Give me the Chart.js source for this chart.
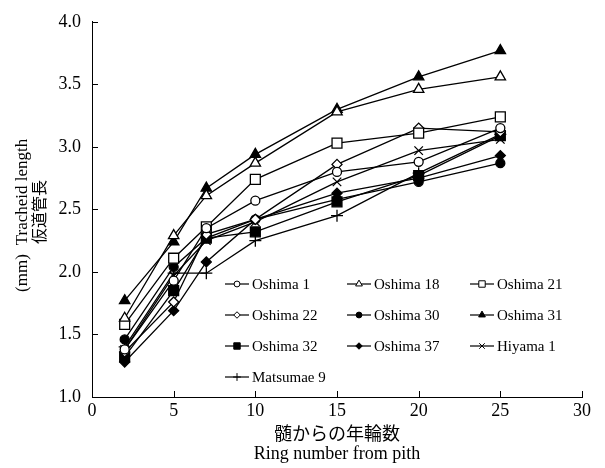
<!DOCTYPE html>
<html>
<head>
<meta charset="utf-8">
<script src="https://cdn.jsdelivr.net/npm/chart.js@4.4.1/dist/chart.umd.min.js"></script>
<style>
    html, body { margin: 0; padding: 0; background: #fff; }
    #wrap { width: 605px; height: 468px; }
</style>
</head>
<body>
<div id="wrap"><canvas id="chart" width="605" height="468"></canvas></div>
<script>
// ring number from pith
const rings = [2, 5, 7, 10, 15, 20, 25];

// tracheid length (mm)
const oshima1 = [1.38, 1.93, 2.35, 2.57, 2.80, 2.88, 3.15];
const oshima18 = [1.63, 2.29, 2.61, 2.87, 3.28, 3.46, 3.56];
const oshima21 = [1.58, 2.11, 2.36, 2.74, 3.03, 3.11, 3.24];
const oshima22 = [1.36, 1.76, 2.30, 2.42, 2.86, 3.15, 3.12];
const oshima30 = [1.46, 2.04, 2.27, 2.42, 2.58, 2.72, 2.87];
const oshima31 = [1.77, 2.24, 2.67, 2.94, 3.30, 3.56, 3.77];
const oshima32 = [1.32, 1.85, 2.27, 2.32, 2.56, 2.77, 3.09];
const oshima37 = [1.28, 1.69, 2.08, 2.42, 2.63, 2.75, 2.93];
const hiyama1 = [1.38, 1.97, 2.25, 2.40, 2.72, 2.97, 3.06];
const matsumae9 = [1.40, 1.99, 1.99, 2.25, 2.45, 2.79, 3.10];

const xTicks = [0, 5, 10, 15, 20, 25, 30];
const yTicks = [1.0, 1.5, 2.0, 2.5, 3.0, 3.5, 4.0];

const SERIF = "'Liberation Serif', 'Times New Roman', 'Noto Sans CJK JP', serif";
const CJK = "'Noto Sans CJK JP', 'Liberation Serif', sans-serif";

const series = [
    { label: 'Oshima 1', data: oshima1, style: 'circle', fill: false, r: 4.5 },
    { label: 'Oshima 18', data: oshima18, style: 'triangle', fill: false, r: 6 },
    { label: 'Oshima 21', data: oshima21, style: 'rect', fill: false, r: 7 },
    { label: 'Oshima 22', data: oshima22, style: 'rectRot', fill: false, r: 5 },
    { label: 'Oshima 30', data: oshima30, style: 'circle', fill: true, r: 4.5 },
    { label: 'Oshima 31', data: oshima31, style: 'triangle', fill: true, r: 6 },
    { label: 'Oshima 32', data: oshima32, style: 'rect', fill: true, r: 7 },
    { label: 'Oshima 37', data: oshima37, style: 'rectRot', fill: true, r: 5 },
    { label: 'Hiyama 1', data: hiyama1, style: 'crossRot', fill: false, r: 6 },
    { label: 'Matsumae 9', data: matsumae9, style: 'cross', fill: false, r: 6 },
];

const datasets = series.map((s) => ({
    label: s.label,
    data: rings.map((x, i) => ({ x, y: s.data[i] })),
    borderColor: '#000',
    borderWidth: 1.3,
    pointStyle: s.style,
    pointRadius: s.r,
    pointBorderWidth: 1.3,
    pointBorderColor: '#000',
    pointBackgroundColor: s.fill ? '#000' : '#fff',
    fill: false,
    tension: 0,
}));

const legendCols = [225, 347, 470];
const legendRows = [284, 315, 346, 377];

const decorations = {
    id: 'decorations',
    afterDraw(chart) {
        const { ctx, chartArea, scales } = chart;
        ctx.save();

        // inward tick marks
        ctx.strokeStyle = '#000';
        ctx.lineWidth = 1;
        ctx.beginPath();
        scales.x.ticks.forEach((t) => {
            const px = Math.round(scales.x.getPixelForValue(t.value)) + 0.5;
            ctx.moveTo(px, chartArea.bottom);
            ctx.lineTo(px, chartArea.bottom - 6);
        });
        scales.y.ticks.forEach((t) => {
            const py = Math.round(scales.y.getPixelForValue(t.value)) + 0.5;
            ctx.moveTo(chartArea.left, py);
            ctx.lineTo(chartArea.left + 6, py);
        });
        ctx.stroke();

        // axis titles
        ctx.fillStyle = '#000';
        ctx.textAlign = 'center';
        ctx.textBaseline = 'middle';
        const midX = scales.x.getPixelForValue(15);
        ctx.font = `18px ${CJK}`;
        ctx.fillText('髄からの年輪数', midX, 433);
        ctx.font = `18px ${SERIF}`;
        ctx.fillText('Ring number from pith', midX, 454);

        const vText = (text, x, y, font) => {
            ctx.save();
            ctx.translate(x, y);
            ctx.rotate(-Math.PI / 2);
            ctx.font = font;
            ctx.fillText(text, 0, 0);
            ctx.restore();
        };
        vText('Tracheid length', 23, 192, `17px ${SERIF}`);
        vText('仮道管長', 39, 212, `16px ${CJK}`);
        vText('(mm)', 23, 273, `17px ${SERIF}`);

        // legend inside the plot
        ctx.textAlign = 'left';
        ctx.font = `15px ${SERIF}`;
        chart.data.datasets.forEach((ds, i) => {
            const x0 = legendCols[i % 3];
            const y0 = legendRows[Math.floor(i / 3)];
            ctx.strokeStyle = '#000';
            ctx.lineWidth = 1.2;
            ctx.beginPath();
            ctx.moveTo(x0, y0);
            ctx.lineTo(x0 + 24, y0);
            ctx.stroke();
            ctx.fillStyle = ds.pointBackgroundColor;
            ctx.lineWidth = 1;
            Chart.helpers.drawPoint(ctx, {
                pointStyle: ds.pointStyle,
                radius: ds.pointRadius * 0.65,
                rotation: 0,
                borderWidth: 1,
            }, x0 + 12, y0);
            ctx.fillStyle = '#000';
            ctx.fillText(ds.label, x0 + 27, y0 + 1);
        });

        ctx.restore();
    },
};

new Chart(document.getElementById('chart'), {
    type: 'line',
    data: { datasets },
    options: {
        responsive: false,
        animation: false,
        layout: { padding: { left: 0, right: 23, top: 19, bottom: 0 } },
        plugins: {
            legend: { display: false },
            tooltip: { enabled: false },
        },
        scales: {
            x: {
                type: 'linear',
                min: 0,
                max: 30,
                afterBuildTicks: (scale) => { scale.ticks = xTicks.map((value) => ({ value })); },
                afterFit: (scale) => { scale.height = 71; },
                grid: { display: false, drawTicks: false },
                border: { display: true, color: '#000', width: 1 },
                ticks: {
                    color: '#000',
                    padding: 3,
                    maxRotation: 0,
                    font: { family: SERIF, size: 18 },
                    callback: (v) => String(v),
                },
            },
            y: {
                type: 'linear',
                min: 1,
                max: 4,
                afterBuildTicks: (scale) => { scale.ticks = yTicks.map((value) => ({ value })); },
                afterFit: (scale) => { scale.width = 92; },
                grid: { display: false, drawTicks: false },
                border: { display: true, color: '#000', width: 1 },
                ticks: {
                    color: '#000',
                    padding: 11,
                    font: { family: SERIF, size: 18 },
                    callback: (v) => Number(v).toFixed(1),
                },
            },
        },
    },
    plugins: [decorations],
});
</script>
</body>
</html>
